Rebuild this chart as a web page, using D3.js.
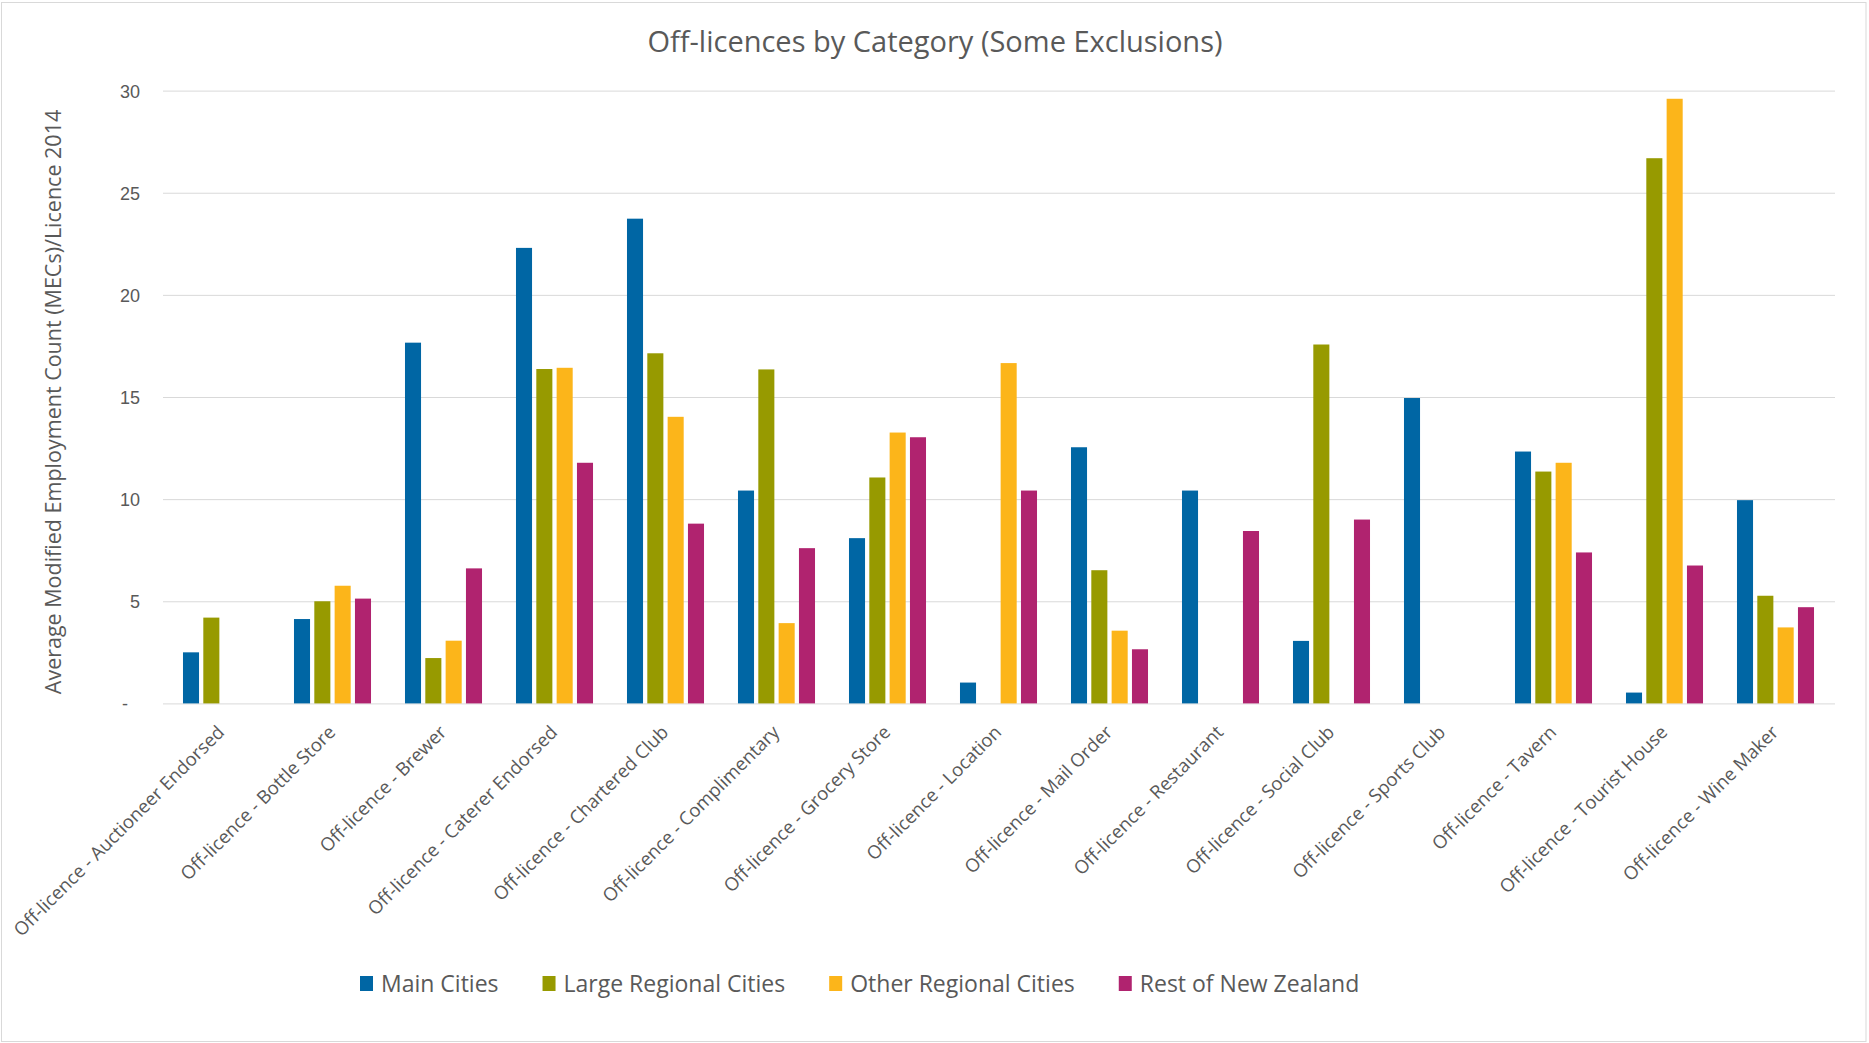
<!DOCTYPE html>
<html>
<head>
<meta charset="utf-8">
<script src="https://cdn.jsdelivr.net/npm/d3@7"></script>
<style>
  html, body { margin: 0; padding: 0; background: #fff; }
  svg { display: block; font-family: "Open Sans", "Noto Sans", sans-serif; }
</style>
</head>
<body>
<svg id="chart" width="1869" height="1043"></svg>
<script>
// Licence categories along the x axis
const categories = [
  "Off-licence - Auctioneer Endorsed",
  "Off-licence - Bottle Store",
  "Off-licence - Brewer",
  "Off-licence - Caterer Endorsed",
  "Off-licence - Chartered Club",
  "Off-licence - Complimentary",
  "Off-licence - Grocery Store",
  "Off-licence - Location",
  "Off-licence - Mail Order",
  "Off-licence - Restaurant",
  "Off-licence - Social Club",
  "Off-licence - Sports Club",
  "Off-licence - Tavern",
  "Off-licence - Tourist House",
  "Off-licence - Wine Maker"
];

// Series names (legend order)
const seriesNames = ["Main Cities", "Large Regional Cities", "Other Regional Cities", "Rest of New Zealand"];

// Average MECs per licence, one array per series (null = no value)
const mainCities          = [2.5, 4.13, 17.66, 22.3, 23.73, 10.42, 8.09, 1.02, 12.54, 10.42, 3.06, 14.95, 12.33, 0.53, 9.95];
const largeRegionalCities = [4.2, 5.0, 2.22, 16.37, 17.14, 16.35, 11.06, null, 6.52, null, 17.57, null, 11.35, 26.69, 5.27];
const otherRegionalCities = [null, 5.76, 3.07, 16.43, 14.03, 3.93, 13.26, 16.66, 3.56, null, null, null, 11.78, 29.6, 3.72];
const restOfNewZealand    = [null, 5.13, 6.61, 11.78, 8.8, 7.6, 13.03, 10.42, 2.65, 8.44, 9.0, null, 7.39, 6.75, 4.71];

// Y axis ticks
const yTicks = [0, 5, 10, 15, 20, 25, 30];

const seriesValues = [mainCities, largeRegionalCities, otherRegionalCities, restOfNewZealand];
const colors = ["#0066a4", "#979a00", "#fcb51a", "#b0236f"];

const W = 1869, H = 1043;
const margin = { left: 166, right: 38, top: 90.6, bottom: 339.6 };
const plotW = W - margin.left - margin.right;
const plotH = H - margin.top - margin.bottom;
const textGray = "#595959";
const gridGray = "#d9d9d9";

const svg = d3.select("#chart");

// Background and outer frame
svg.append("rect").attr("width", W).attr("height", H).attr("fill", "#fff");
svg.append("rect")
  .attr("x", 1.5).attr("y", 2.5)
  .attr("width", 1864.5).attr("height", 1039)
  .attr("fill", "none").attr("stroke", gridGray).attr("stroke-width", 1);

const x0 = d3.scaleBand()
  .domain(categories)
  .range([0, plotW])
  .paddingInner(0.306)
  .paddingOuter(0.153);

const x1 = d3.scaleBand()
  .domain(d3.range(seriesNames.length))
  .range([0, x0.bandwidth()])
  .paddingInner(0.21)
  .paddingOuter(0);

const y = d3.scaleLinear().domain([0, 30]).range([plotH, 0]);

const g = svg.append("g").attr("transform", `translate(${margin.left},${margin.top})`);

// Horizontal gridlines + y tick labels
const yAxis = d3.axisLeft(y)
  .tickValues(yTicks)
  .tickSize(-plotW)
  .tickPadding(26)
  .tickFormat(d => d === 0 ? "-" : d3.format("d")(d));

const yAxisG = g.append("g").call(yAxis);
yAxisG.select(".domain").remove();
yAxisG.selectAll(".tick line")
  .attr("stroke", gridGray).attr("stroke-width", 1)
  .attr("x1", -3).attr("x2", plotW + 4);
yAxisG.selectAll(".tick text")
  .attr("fill", textGray)
  .style("font-size", "18px")
  .attr("x", d => d === 0 ? -38 : -26)
  .attr("dy", "0.36em");

// Bars
const groups = g.selectAll("g.cat")
  .data(categories)
  .join("g")
  .attr("class", "cat")
  .attr("transform", c => `translate(${x0(c)},0)`);

groups.selectAll("rect")
  .data((c, i) => seriesValues.map((vals, s) => ({ s, v: vals[i] })).filter(d => d.v != null))
  .join("rect")
  .attr("x", d => x1(d.s))
  .attr("width", x1.bandwidth())
  .attr("y", d => y(d.v))
  .attr("height", d => y(0) - y(d.v))
  .attr("fill", d => colors[d.s]);

// Category labels, rotated 45°
const xAxisG = g.append("g").attr("transform", `translate(0,${plotH})`);
xAxisG.selectAll("text")
  .data(categories)
  .join("text")
  .attr("transform", c => `translate(${x0(c) + x0.bandwidth() / 2 + 4},${30}) rotate(-45)`)
  .attr("text-anchor", "end")
  .attr("fill", textGray)
  .style("font-size", "18.5px")
  .text(c => c);

// Title
svg.append("text")
  .attr("x", 935).attr("y", 52)
  .attr("text-anchor", "middle")
  .attr("fill", textGray)
  .style("font-size", "29px")
  .text("Off-licences by Category (Some Exclusions)");

// Y axis title
svg.append("text")
  .attr("transform", `translate(61,402) rotate(-90)`)
  .attr("text-anchor", "middle")
  .attr("fill", textGray)
  .style("font-size", "21.5px")
  .text("Average Modified Employment Count (MECs)/Licence 2014");

// Legend
const legend = svg.append("g").attr("transform", "translate(360,984)");
let lx = 0;
seriesNames.forEach((name, i) => {
  const item = legend.append("g").attr("transform", `translate(${lx},0)`);
  item.append("rect")
    .attr("x", 0).attr("y", -8)
    .attr("width", 13).attr("height", 15)
    .attr("fill", colors[i]);
  const t = item.append("text")
    .attr("x", 21).attr("y", 0).attr("dy", "0.35em")
    .attr("fill", textGray)
    .style("font-size", "23px")
    .text(name);
  lx += 21 + t.node().getComputedTextLength() + 44;
});
</script>
</body>
</html>
